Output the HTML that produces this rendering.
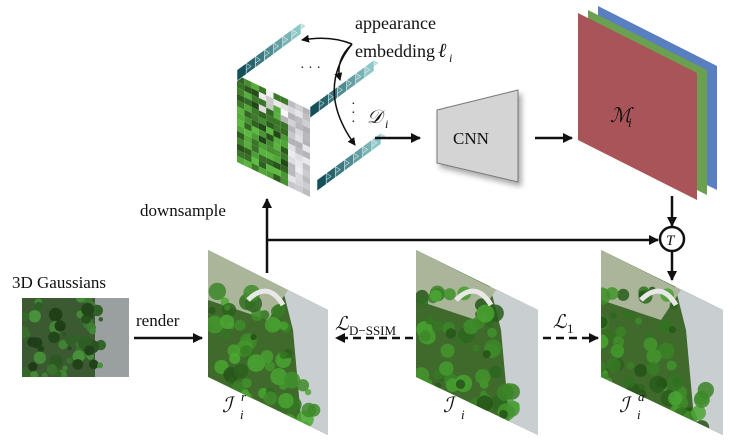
<!DOCTYPE html>
<html><head><meta charset="utf-8"><style>
html,body{margin:0;padding:0;background:#fff;width:730px;height:445px;overflow:hidden}
svg{display:block}
svg text{font-family:"Liberation Serif","DejaVu Serif",serif !important;fill:#111}
</style></head><body>
<svg id="s" width="730" height="445" viewBox="0 0 730 445" xmlns="http://www.w3.org/2000/svg" font-family="Liberation Serif, serif">
<defs>
<marker id="ah" markerWidth="10" markerHeight="10" refX="9" refY="5" orient="auto" markerUnits="userSpaceOnUse"><path d="M0,0 L10,5 L0,10 z" fill="#111"/></marker>
<marker id="ah2" markerWidth="8" markerHeight="8" refX="7" refY="4" orient="auto" markerUnits="userSpaceOnUse"><path d="M0,0 L8,4 L0,8 z" fill="#111"/></marker>
<filter id="sh" x="-20%" y="-20%" width="150%" height="150%"><feDropShadow dx="3" dy="4" stdDeviation="3" flood-color="#000" flood-opacity="0.35"/></filter>
<clipPath id="c1"><polygon points="208,250 328,310 328,435 208,377"/></clipPath>
<clipPath id="c2"><polygon points="416,250 538,310 538,435 416,377"/></clipPath>
<clipPath id="c3"><polygon points="601,250 723,310 723,435 601,377"/></clipPath>
<clipPath id="cg"><rect x="22" y="298" width="107" height="79"/></clipPath>
</defs>
<g id="imgs"></g>
<g id="cube"></g>

<polygon points="598,6 717,66 717,190 598,132" fill="#5a7fc0"/>
<polygon points="588,10 707,70 707,195 588,136" fill="#6aa050"/>
<polygon points="578,13 697,73 697,200 578,140" fill="#a85458"/>
<text x="610" y="122" font-size="20" font-style="italic">ℳ</text><text x="628" y="127" font-size="13" font-style="italic">i</text>

<polygon points="437,110 518,90 518,182 437,163" fill="#d4d4d4" stroke="#777" stroke-width="1" filter="url(#sh)"/>
<text x="453" y="144" font-size="17">CNN</text>
<line x1="375" y1="138" x2="420" y2="138" stroke="#111" stroke-width="2.5" marker-end="url(#ah)"/>
<line x1="535" y1="138" x2="572" y2="138" stroke="#111" stroke-width="2.5" marker-end="url(#ah)"/>

<text x="355" y="29" font-size="18">appearance</text>
<text x="355" y="57" font-size="18">embedding</text>
<text x="438" y="57" font-size="20" font-style="italic">ℓ</text><text x="449" y="62" font-size="12" font-style="italic">i</text>
<text x="300" y="72" font-size="14">· · ·</text>
<text x="351" y="108" font-size="14">·</text><text x="351" y="117" font-size="14">·</text><text x="351" y="126" font-size="14">·</text>
<text x="367" y="123" font-size="19" font-style="italic">𝒟</text><text x="385" y="128" font-size="12" font-style="italic">i</text>
<path d="M352,44 Q330,35 302,40" fill="none" stroke="#111" stroke-width="1.5" marker-end="url(#ah2)"/>
<path d="M352,44 Q335,60 340,80" fill="none" stroke="#111" stroke-width="1.5" marker-end="url(#ah2)"/>
<path d="M352,44 Q315,90 355,145" fill="none" stroke="#111" stroke-width="1.5" marker-end="url(#ah2)"/>

<text x="140" y="216" font-size="17">downsample</text>
<text x="12" y="288" font-size="17">3D Gaussians</text>
<text x="136" y="326" font-size="17">render</text>

<line x1="267" y1="273" x2="267" y2="199" stroke="#111" stroke-width="2.5" marker-end="url(#ah)"/>
<line x1="267" y1="240" x2="658" y2="240" stroke="#111" stroke-width="2.5" marker-end="url(#ah)"/>
<circle cx="672" cy="239" r="12" fill="#fff" stroke="#111" stroke-width="2.5"/>
<text x="666" y="245" font-size="15" font-style="italic">T</text>
<line x1="672" y1="196" x2="672" y2="226" stroke="#111" stroke-width="2.5" marker-end="url(#ah)"/>
<line x1="672" y1="251" x2="672" y2="280" stroke="#111" stroke-width="2.5" marker-end="url(#ah)"/>
<line x1="134" y1="338" x2="202" y2="338" stroke="#111" stroke-width="2.5" marker-end="url(#ah)"/>
<line x1="413" y1="338" x2="336" y2="338" stroke="#111" stroke-width="2.5" stroke-dasharray="8,5" marker-end="url(#ah)"/>
<line x1="543" y1="338" x2="598" y2="338" stroke="#111" stroke-width="2.5" stroke-dasharray="8,5" marker-end="url(#ah)"/>
<text x="335" y="330" font-size="19" font-style="italic">ℒ</text><text x="349" y="335" font-size="13">D−SSIM</text>
<text x="553" y="328" font-size="19" font-style="italic">ℒ</text><text x="567" y="333" font-size="13">1</text>

<text x="222" y="412" font-size="21" font-style="italic">ℐ</text><text x="241" y="401" font-size="13" font-style="italic">r</text><text x="240" y="419" font-size="13" font-style="italic">i</text>
<text x="443" y="412" font-size="21" font-style="italic">ℐ</text><text x="461" y="419" font-size="13" font-style="italic">i</text>
<text x="619" y="412" font-size="21" font-style="italic">ℐ</text><text x="638" y="401" font-size="13" font-style="italic">a</text><text x="637" y="419" font-size="13" font-style="italic">i</text>
</svg>
<script>
var NS="http://www.w3.org/2000/svg";
var seed=7;function r(){seed=(seed*16807)%2147483647;return seed/2147483647;}
function el(p,t,a){var e=document.createElementNS(NS,t);for(var k in a)e.setAttribute(k,a[k]);p.appendChild(e);return e;}
var imgs=document.getElementById("imgs");
function scene(clip,x0){
 var g=el(imgs,"g",{"clip-path":"url(#"+clip+")"});
 el(g,"rect",{x:x0,y:250,width:125,height:190,fill:"#3f6a2c"});
 el(g,"polygon",{points:(x0+70)+",270 "+(x0+125)+",300 "+(x0+125)+",440 "+(x0+95)+",440 "+(x0+85)+",330",fill:"#c9cfd0"});
 el(g,"polygon",{points:x0+",250 "+(x0+80)+",290 "+(x0+60)+",320 "+x0+",300",fill:"#aab59a"});
 for(var i=0;i<90;i++){var cx=x0+r()*110,cy=290+r()*150;if(cx>x0+80&&cy<380)continue;
  var gg=Math.floor(80+r()*90);el(g,"circle",{cx:cx,cy:cy,r:3+r()*6,fill:"rgb("+Math.floor(gg*0.45)+","+gg+","+Math.floor(gg*0.3)+")",opacity:0.85});}
 el(g,"path",{d:"M"+(x0+40)+",300 q20,-20 35,5",stroke:"#e8e8e8","stroke-width":5,fill:"none"});
}
scene("c1",208);scene("c2",416);scene("c3",601);
var gg0=el(imgs,"g",{"clip-path":"url(#cg)"});
el(gg0,"rect",{x:22,y:298,width:107,height:79,fill:"#3c5a32"});
el(gg0,"rect",{x:95,y:298,width:34,height:79,fill:"#9aa0a0"});
for(var i=0;i<60;i++){var v=Math.floor(60+r()*90);el(gg0,"circle",{cx:22+r()*80,cy:298+r()*79,r:2+r()*5,fill:"rgb("+Math.floor(v*0.5)+","+v+","+Math.floor(v*0.4)+")"});}
var cube=document.getElementById("cube");
var cols=10,rows=14;
for(var u=0;u<cols;u++)for(var v=0;v<rows;v++){
 var X=function(a,b){return (237+a*73/cols)+","+(75+b*87/rows+a*35/cols);};
 var c;var t=r();
 if(u>=7){var w=Math.floor(170+r()*70);c="rgb("+w+","+w+","+(w+5)+")";}
 else if(v<4&&u>2&&t<0.5){var w=Math.floor(180+r()*70);c="rgb("+w+","+w+","+w+")";}
 else{var gv=Math.floor(70+r()*120);c="rgb("+Math.floor(gv*0.5)+","+gv+","+Math.floor(gv*0.35)+")";}
 el(cube,"polygon",{points:X(u,v)+" "+X(u+1,v)+" "+X(u+1,v+1)+" "+X(u,v+1),fill:c});
}
function bar(x,y){
 var n=7,dx=64/n,dy=-47/n,h=11;
 for(var i=n-1;i>=0;i--){
  var px=x+i*dx,py=y+i*dy;var l=i/(n-1);
  var top="rgb("+Math.floor(40+l*150)+","+Math.floor(110+l*110)+","+Math.floor(120+l*100)+")";
  var fr="rgb("+Math.floor(20+l*120)+","+Math.floor(80+l*120)+","+Math.floor(90+l*110)+")";
  el(cube,"polygon",{points:px+","+py+" "+(px+dx)+","+(py+dy)+" "+(px+dx+5)+","+(py+dy+3)+" "+(px+5)+","+(py+3),fill:top,stroke:"#fff","stroke-width":0.5});
  el(cube,"polygon",{points:(px)+","+(py)+" "+(px+dx)+","+(py+dy)+" "+(px+dx)+","+(py+dy+h)+" "+px+","+(py+h),fill:fr,stroke:"#fff","stroke-width":0.5});
 }
}
bar(237,70);bar(310,107);bar(317,180);
</script>
</body></html>
